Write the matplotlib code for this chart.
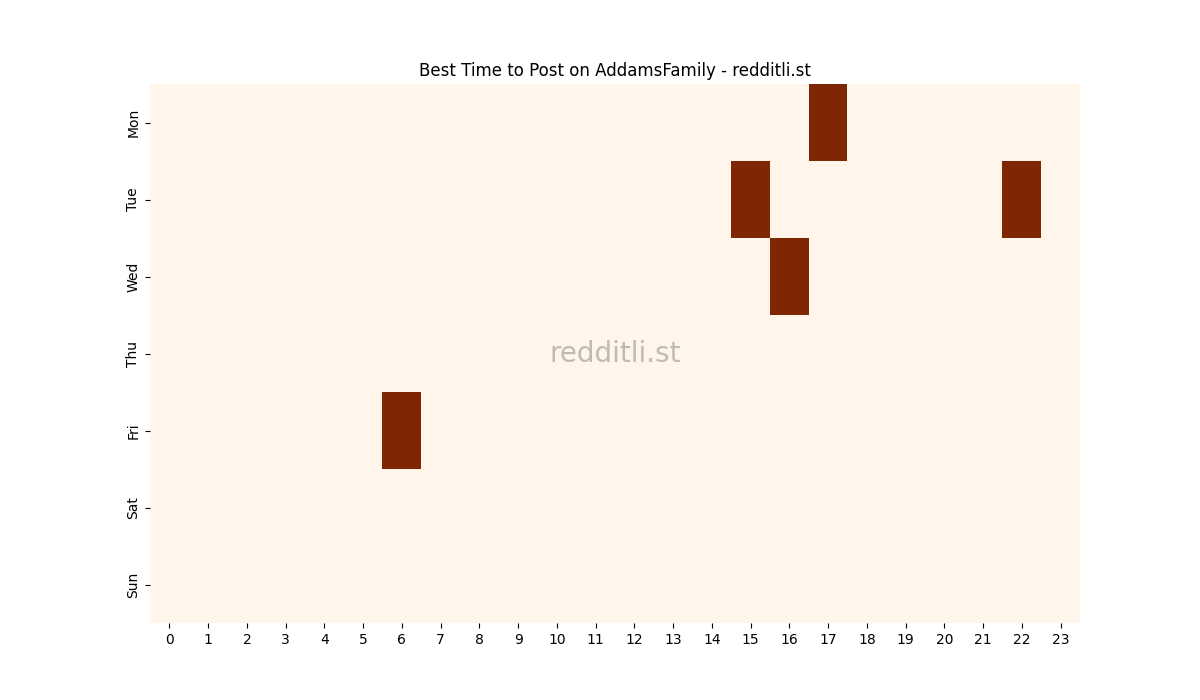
import matplotlib
matplotlib.use("Agg")
import matplotlib.pyplot as plt
import numpy as np

days = ["Mon", "Tue", "Wed", "Thu", "Fri", "Sat", "Sun"]
hours = [str(h) for h in range(24)]
# (day index, hour) cells with high activity
hot_cells = [(0, 17), (1, 15), (1, 22), (2, 16), (4, 6)]

data = np.zeros((len(days), len(hours)))
for d, h in hot_cells:
    data[d, h] = 1

fig, ax = plt.subplots(figsize=(12, 7), dpi=100)
ax.imshow(data, cmap="Oranges", aspect="auto", vmin=0, vmax=1, interpolation="nearest")
ax.set_xticks(range(len(hours)))
ax.set_xticklabels(hours)
ax.set_yticks(range(len(days)))
ax.set_yticklabels(days, rotation=90, va="center")
for s in ax.spines.values():
    s.set_visible(False)
ax.set_title("Best Time to Post on AddamsFamily - redditli.st")
ax.text(0.5, 0.5, "redditli.st", transform=ax.transAxes, ha="center", va="center",
        fontsize=20, color="gray", alpha=0.5)
fig.savefig("out.png")
